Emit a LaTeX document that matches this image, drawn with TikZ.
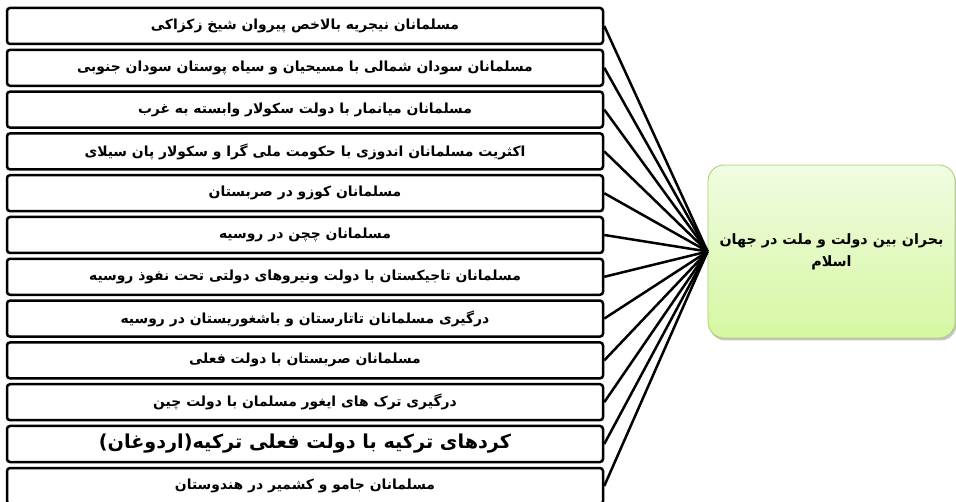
\documentclass[tikz,border=0pt]{standalone}
\usepackage{fontspec}
\usepackage{tikz}
\usetikzlibrary{shadows}
\TeXXeTstate=1
\newfontfamily\arabicfont[Script=Arabic]{DejaVu Sans}
\definecolor{leafedge}{HTML}{A6CF72}
\definecolor{leaftop}{HTML}{F0FCE2}
\definecolor{leafbot}{HTML}{D6F7A2}

\begin{document}
\begin{tikzpicture}[x=1pt, y=-1pt,
    issue/.style={rectangle, draw, line width=2.5pt, rounded corners=3pt, fill=white,
      minimum width=596pt, minimum height=36pt, inner sep=0pt,
      font=\arabicfont\bfseries\fontsize{13.9}{16}\selectfont},
    crisisbox/.style={rectangle, draw=leafedge, line width=0.8pt, rounded corners=16pt,
      top color=leaftop, bottom color=leafbot, align=center,
      minimum width=247pt, minimum height=173pt,
      drop shadow={shadow xshift=1.5pt, shadow yshift=-2.5pt, fill=black!45},
      font=\arabicfont\bfseries\fontsize{14.3}{22}\selectfont},
    link/.style={line width=2.5pt}]

  \useasboundingbox (0,0) rectangle (956,502);

  \foreach \y/\name/\txt in {
      {26/nigeria/مسلمانان نیجریه بالاخص پیروان شیخ زکزاکی},
      {67.8/sudan/مسلمانان سودان شمالی با مسیحیان و سیاه پوستان سودان جنوبی},
      {109.6/myanmar/مسلمانان میانمار  با دولت سکولار وابسته به غرب},
      {151.4/indonesia/اکثریت مسلمانان اندوزی با حکومت ملی گرا و سکولار  پان سیلای},
      {193.2/kosovo/مسلمانان کوزو در صربستان},
      {235/chechnya/مسلمانان چچن در روسیه},
      {276.8/tajik/مسلمانان تاجیکستان با دولت ونیروهای دولتی تحت نفوذ روسیه},
      {318.6/tatar/درگیری مسلمانان تاتارستان و باشغوریستان در روسیه},
      {360.4/serbia/مسلمانان صربستان با دولت فعلی},
      {402.2/uyghur/درگیری ترک های ایغور مسلمان با دولت چین},
      {486/kashmir/مسلمانان جامو و کشمیر در هندوستان}}
    \node[issue] (\name) at (305,\y) {\beginR \txt\endR};

  \node[issue, font=\arabicfont\bfseries\fontsize{19.2}{21}\selectfont] (kurd) at (305,444) {\beginR کردهای ترکیه با دولت فعلی ترکیه(اردوغان)\endR};

  \node[crisisbox] (crisis) at (831.5,251.5) {\beginR بحران بین دولت و ملت در جهان\endR\\\beginR اسلام\endR};

  \foreach \name in {nigeria, sudan, myanmar, indonesia, kosovo, chechnya, tajik, tatar, serbia, uyghur, kurd, kashmir}
    \draw[link] (\name.east) -- (crisis.west);
\end{tikzpicture}
\end{document}
